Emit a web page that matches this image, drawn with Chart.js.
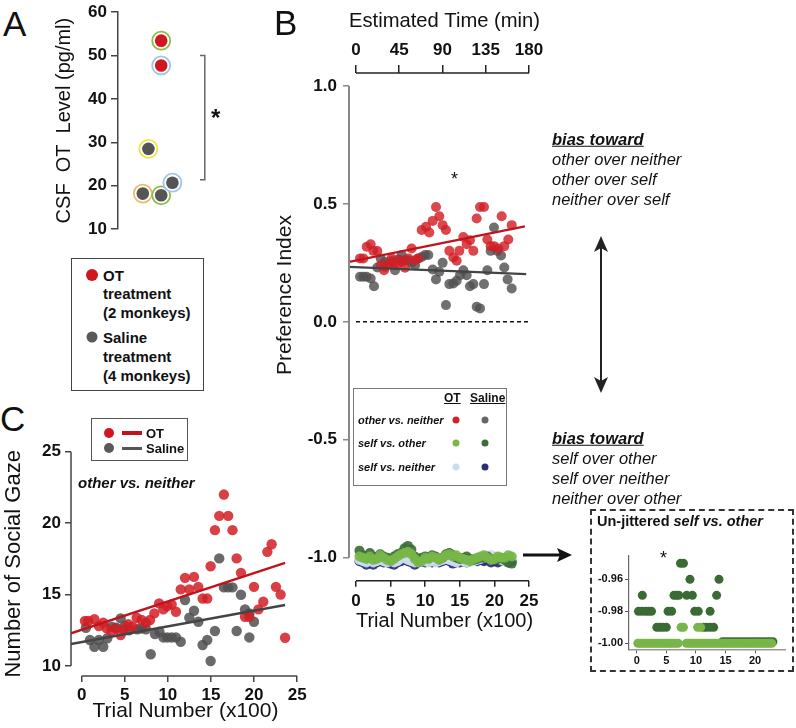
<!DOCTYPE html>
<html>
<head>
<meta charset="utf-8">
<script src="https://cdn.jsdelivr.net/npm/chart.js@4.4.1/dist/chart.umd.min.js"></script>
<style>
  html, body { margin: 0; padding: 0; background: #fff; }
  #fig { position: relative; width: 796px; height: 728px; overflow: hidden;
         font-family: "Liberation Sans", Arial, sans-serif; color: #111; }
  .box { position: absolute; }
  .t { position: absolute; white-space: nowrap; line-height: 1; transform: translateY(-50%); }
  .letter { font-size: 35px; }
  .bold { font-weight: bold; }
  .bi { font-weight: bold; font-style: italic; }
  .it { font-style: italic; }
  .u { text-decoration: underline; }
  .dot { position: absolute; border-radius: 50%; transform: translate(-50%, -50%); }
</style>
</head>
<body>
<div id="fig">
  <div class="box" style="left:40px;top:0;width:190px;height:240px"><canvas id="chartA"></canvas></div>
  <div class="box" style="left:270px;top:0;width:300px;height:640px"><canvas id="chartB"></canvas></div>
  <div class="box" style="left:0;top:440px;width:320px;height:288px"><canvas id="chartC"></canvas></div>
  <div class="box" style="left:590px;top:509px;width:204px;height:163px;border:2px dashed #333;box-sizing:border-box"></div>
  <div class="box" style="left:590px;top:540px;width:204px;height:132px"><canvas id="chartD"></canvas></div>

  <!-- panel letters -->
  <div class="t letter" style="left:3px;top:23px">A</div>
  <div class="t letter" style="left:274px;top:22px">B</div>
  <div class="t letter" style="left:0;top:418px">C</div>

  <!-- panel A extras -->
  <div class="t bold" style="left:211px;top:118px;font-size:24px">*</div>
  <div class="box" style="left:71px;top:258px;width:133px;height:133px;border:1.5px solid #444;box-sizing:border-box"></div>
  <div class="dot" style="left:92px;top:275px;width:12px;height:12px;background:#d0161e"></div>
  <div class="dot" style="left:92px;top:337px;width:11px;height:11px;background:#5a5a5a"></div>
  <div class="t bold" style="left:103px;top:275px;font-size:15px">OT</div>
  <div class="t bold" style="left:103px;top:293px;font-size:15px">treatment</div>
  <div class="t bold" style="left:103px;top:312px;font-size:15px">(2 monkeys)</div>
  <div class="t bold" style="left:103px;top:337px;font-size:15px">Saline</div>
  <div class="t bold" style="left:103px;top:356px;font-size:15px">treatment</div>
  <div class="t bold" style="left:103px;top:375px;font-size:15px">(4 monkeys)</div>

  <!-- panel B extras -->
  <div class="box" style="left:284px;top:295px;font-size:21px;white-space:nowrap;transform:translate(-50%,-50%) rotate(-90deg)">Preference Index</div>
  <div class="t" style="left:451px;top:179px;font-size:18px">*</div>
  <div class="box" style="left:353px;top:388px;width:154px;height:98px;border:1px solid #777;box-sizing:border-box"></div>
  <div class="t bold u" style="left:444px;top:398px;font-size:12px">OT</div>
  <div class="t bold u" style="left:470px;top:398px;font-size:12px">Saline</div>
  <div class="t bi" style="left:358px;top:420px;font-size:11px">other vs. neither</div>
  <div class="t bi" style="left:358px;top:443px;font-size:11px">self vs. other</div>
  <div class="t bi" style="left:358px;top:467px;font-size:11px">self vs. neither</div>
  <div class="dot" style="left:456px;top:420px;width:7px;height:7px;background:#d42128"></div>
  <div class="dot" style="left:485px;top:420px;width:7px;height:7px;background:#666"></div>
  <div class="dot" style="left:456px;top:443px;width:7px;height:7px;background:#78b648"></div>
  <div class="dot" style="left:485px;top:443px;width:7px;height:7px;background:#3c6e37"></div>
  <div class="dot" style="left:456px;top:467px;width:7px;height:7px;background:#c9ddef"></div>
  <div class="dot" style="left:485px;top:467px;width:7px;height:7px;background:#2d2c7c"></div>

  <div class="t bi u" style="left:552px;top:139px;font-size:16.5px">bias toward</div>
  <div class="t it" style="left:552px;top:159px;font-size:16.5px">other over neither</div>
  <div class="t it" style="left:552px;top:179px;font-size:16.5px">other over self</div>
  <div class="t it" style="left:552px;top:199px;font-size:16.5px">neither over self</div>
  <div class="t bi u" style="left:552px;top:438px;font-size:16.5px">bias toward</div>
  <div class="t it" style="left:552px;top:458px;font-size:16.5px">self over other</div>
  <div class="t it" style="left:552px;top:478px;font-size:16.5px">self over neither</div>
  <div class="t it" style="left:552px;top:498px;font-size:16.5px">neither over other</div>

  <!-- inset title -->
  <div class="t bold" style="left:597px;top:521px;font-size:14.5px">Un-jittered <i>self vs. other</i></div>
  <div class="t" style="left:660px;top:558px;font-size:18px">*</div>

  <!-- panel C legend -->
  <div class="box" style="left:91px;top:418px;width:97px;height:43px;border:1px solid #555;box-sizing:border-box"></div>
  <div class="dot" style="left:109px;top:433px;width:10px;height:10px;background:#d0161e"></div>
  <div class="box" style="left:122px;top:431px;width:20px;height:3.5px;background:#c0141c"></div>
  <div class="t bold" style="left:146px;top:433px;font-size:13px">OT</div>
  <div class="dot" style="left:109px;top:448px;width:10px;height:10px;background:#5a5a5a"></div>
  <div class="box" style="left:122px;top:446.5px;width:20px;height:3.5px;background:#555"></div>
  <div class="t bold" style="left:146px;top:448px;font-size:13px">Saline</div>
  <div class="t bi" style="left:78px;top:482px;font-size:15px">other vs. neither</div>

  <svg class="box" style="left:0;top:0;pointer-events:none" width="796" height="728">
    <line x1="601" y1="246" x2="601" y2="384" stroke="#222" stroke-width="2"/>
    <polygon points="601,236 594,252 601,248 608,252" fill="#222"/>
    <polygon points="601,393 594,377 601,381 608,377" fill="#222"/>
    <line x1="523" y1="555" x2="562" y2="555" stroke="#111" stroke-width="3"/>
    <polygon points="572,555 557,548 560,555 557,562" fill="#111"/>
  </svg>
</div>

<script>
'use strict';

// ─── Data ─────────────────────────────────────────────────────────
// A: CSF oxytocin level per monkey (x = jitter position)
const csfOT = [53.4, 47.7];
const csfOTx = [5.4, 5.4];
const csfSal = [28.5, 18.2, 17.8, 20.7];
const csfSalx = [3.8, 3.1, 5.4, 6.8];
const csfTicks = [10, 20, 30, 40, 50, 60];
const bracketX = [10.25, 10.85, 10.85, 10.25];
const bracketY = [50, 50, 21.4, 21.4];

// B: preference index, other vs. neither
const prefOTx = [0.58, 1.06, 1.54, 2.12, 2.5, 3.08, 3.57, 4.05, 4.19, 4.67, 5.15, 5.39, 5.88, 6.36, 6.6, 7.08,
  7.56, 8.04, 8.53, 9.01, 9.49, 10.12, 10.6, 11.08, 11.56, 12.04, 12.52, 13.0, 13.49, 14.07, 14.55, 14.93,
  15.51, 15.99, 16.47, 16.96, 17.44, 17.92, 18.5, 18.98, 19.46, 19.94, 20.57, 21.05, 21.43, 22.01, 22.5];
const prefOT = [0.269, 0.269, 0.318, 0.329, 0.301, 0.30, 0.24, 0.219, 0.233, 0.244, 0.269, 0.25, 0.244, 0.261, 0.254, 0.229,
  0.269, 0.311, 0.261, 0.269, 0.389, 0.403, 0.379, 0.428, 0.487, 0.448, 0.41, 0.389, 0.301, 0.273, 0.259, 0.301,
  0.36, 0.329, 0.346, 0.301, 0.438, 0.487, 0.487, 0.349, 0.321, 0.321, 0.311, 0.448, 0.321, 0.349, 0.41];
const prefSalx = [0.58, 1.06, 1.54, 2.12, 2.6, 3.08, 3.57, 4.19, 4.67, 5.15, 5.64, 6.12, 6.6, 7.08, 7.56, 8.04,
  8.53, 9.01, 9.49, 9.97, 10.45, 11.08, 11.56, 12.04, 12.52, 13.0, 13.49, 14.07, 14.55, 15.03, 15.51, 15.99,
  16.47, 16.96, 17.44, 17.92, 18.5, 18.98, 19.46, 19.94, 20.43, 20.96, 21.43, 21.91, 22.5];
const prefSal = [0.191, 0.191, 0.191, 0.184, 0.151, 0.23, 0.269, 0.254, 0.244, 0.258, 0.219, 0.264, 0.283, 0.261, 0.261, 0.25,
  0.24, 0.269, 0.275, 0.283, 0.283, 0.222, 0.18, 0.212, 0.25, 0.071, 0.16, 0.163, 0.174, 0.198, 0.219, 0.198,
  0.151, 0.16, 0.064, 0.057, 0.16, 0.219, 0.301, 0.4, 0.301, 0.281, 0.23, 0.18, 0.141];
const fitOTx = [-1.01, 24.4];
const fitOTy = [0.254, 0.405];
const fitSalx = [-1.01, 24.6];
const fitSaly = [0.233, 0.202];
const zeroX = [0, 25];
const zeroY = [0, 0];

// B: self vs. other / self vs. neither (clustered near -1)
const clusterX = [0.5, 1, 1.5, 2, 2.5, 3, 3.5, 4, 4.5, 5, 5.5, 6, 6.5, 7, 7.5, 8, 8.5, 9, 9.5, 10, 10.5, 11, 11.5,
  12, 12.5, 13, 13.5, 14, 14.5, 15, 15.5, 16, 16.5, 17, 17.5, 18, 18.5, 19, 19.5, 20, 20.5, 21, 21.5, 22, 22.5];
const selfOtherOT = [-0.995, -1.0, -1.005, -0.995, -1.01, -1.005, -0.99, -1.0, -1.01, -1.015, -1.005, -0.995, -0.985, -0.98,
  -0.975, -0.985, -1.005, -1.02, -1.015, -1.0, -1.005, -0.995, -1.0, -1.01, -1.0, -0.99, -0.985, -0.995, -0.99, -1.0,
  -1.005, -1.01, -1.015, -1.005, -1.0, -0.995, -0.99, -1.0, -1.01, -1.005, -0.995, -1.0, -1.0, -0.99, -0.995];
const selfOtherSal = [-0.97, -0.99, -1.0, -0.98, -0.995, -1.0, -0.985, -0.995, -1.0, -1.005, -0.995, -0.985, -0.98, -0.96,
  -0.95, -0.965, -0.995, -1.01, -1.0, -0.995, -1.0, -0.99, -0.995, -1.005, -1.0, -0.985, -0.98, -0.99, -1.0, -1.005,
  -1.0, -0.995, -1.005, -1.01, -1.005, -1.0, -1.0, -0.995, -1.005, -1.01, -1.005, -1.0, -1.01, -1.02, -1.025];
const selfNeitherOT = [-1.01, -1.015, -1.02, -1.01, -1.02, -1.015, -1.005, -1.015, -1.02, -1.01, -1.02, -1.015, -1.005, -1.0,
  -1.01, -1.015, -1.02, -1.01, -1.005, -1.015, -1.02, -1.01, -1.02, -1.015, -1.01, -1.005, -1.01, -1.015, -1.02, -1.01,
  -1.015, -1.02, -1.01, -1.015, -1.01, -1.005, -1.0, -0.995, -0.99, -0.995, -1.0, -1.01, -1.015, -1.01, -1.0];
const selfNeitherSal = [-1.015, -1.02, -1.03, -1.02, -1.03, -1.02, -1.015, -1.02, -1.02, -1.025, -1.03, -1.02, -1.015, -1.01,
  -1.015, -1.02, -1.03, -1.02, -1.015, -1.02, -1.015, -1.02, -1.015, -1.02, -1.015, -1.01, -1.015, -1.025, -1.02, -1.02,
  -1.015, -1.02, -1.015, -1.01, -1.015, -1.01, -1.015, -1.01, -1.02, -1.015, -1.02, -1.01, -1.015, -1.02, -1.015];
const prefTicks = [-1.0, -0.5, 0.0, 0.5, 1.0];
const trialTicks = [0, 5, 10, 15, 20, 25];
const timeTicks = [0, 45, 90, 135, 180];

// C: number of social gaze, other vs. neither
const gazeOTx = [0.38, 0.77, 1.47, 2.0, 2.5, 2.9, 3.47, 3.98, 4.52, 4.9, 5.4, 5.9, 6.38, 6.96, 7.46, 7.93, 8.43, 8.98,
  9.48, 9.94, 10.44, 10.94, 11.49, 11.99, 12.49, 13.03, 13.53, 14.03, 14.57, 14.96, 15.46, 15.96, 16.5, 17.0, 17.5,
  17.98, 18.48, 18.95, 19.45, 19.99, 20.5, 21.07, 21.54, 22.04, 22.54, 23.08, 23.6];
const gazeOT = [13.15, 13.15, 13.27, 12.8, 13.03, 12.63, 12.45, 12.63, 12.17, 12.57, 12.93, 12.75, 13.38, 13.22, 13.03,
  13.22, 13.68, 14.38, 13.96, 14.19, 14.31, 13.8, 15.36, 16.17, 15.36, 16.24, 15.54, 14.72, 14.72, 16.98, 19.51, 20.51,
  22.0, 20.51, 19.51, 17.53, 16.52, 13.45, 13.45, 15.54, 13.96, 14.5, 17.99, 18.52, 15.54, 15.0, 11.98];
const gazeSalx = [0.49, 0.96, 1.47, 2.0, 2.5, 2.97, 3.47, 3.98, 4.52, 5.0, 5.5, 6.46, 6.96, 7.46, 8.01, 8.5, 9.02, 9.48,
  9.94, 10.44, 10.94, 11.49, 11.99, 12.49, 13.03, 13.53, 14.03, 14.57, 14.96, 15.46, 15.96, 16.5, 17.0, 17.5, 17.98,
  18.48, 18.95, 19.45, 19.45, 19.99];
const gazeSal = [12.68, 11.82, 11.35, 11.82, 11.35, 11.94, 12.75, 12.68, 13.33, 12.8, 12.5, 12.57, 12.63, 12.57, 10.82,
  12.24, 12.4, 12.0, 12.0, 12.0, 12.0, 11.7, 14.62, 13.38, 13.87, 13.1, 11.47, 11.82, 10.35, 12.45, 17.53, 15.5, 15.5,
  15.5, 12.45, 14.99, 13.96, 13.68, 12.0, 13.1];
const gazeFitOTx = [-1.24, 23.6];
const gazeFitOTy = [12.29, 17.22];
const gazeFitSalx = [-1.24, 23.6];
const gazeFitSaly = [11.54, 14.27];
const gazeTicks = [10, 15, 20, 25];

// Inset: un-jittered self vs. other
const rawSalx = [7.4, 7.9, 9.0, 13.9, 0.95, 6.3, 6.7, 7.1, 8.45, 9.4, 13.5, 0.3, 0.9, 1.5, 2.0, 2.5, 5.3, 5.9, 9.8,
  10.4, 12.4, 3.4, 3.9, 4.4, 5.0, 11.3, 11.8, 12.4, 13.0, 14.5, 15, 15.5, 16, 16.5, 17, 17.5, 18, 18.5, 19, 19.5, 20,
  20.5, 21, 21.5, 22, 22.5, 23];
const rawSal = [-0.95, -0.95, -0.96, -0.96, -0.97, -0.97, -0.97, -0.97, -0.97, -0.97, -0.97, -0.98, -0.98, -0.98, -0.98,
  -0.98, -0.98, -0.98, -0.98, -0.98, -0.98, -0.99, -0.99, -0.99, -0.99, -0.99, -0.99, -0.99, -0.99, -0.999, -0.999,
  -0.999, -0.999, -0.999, -0.999, -0.999, -0.999, -0.999, -0.999, -0.999, -0.999, -0.999, -0.999, -0.999, -0.999,
  -0.999, -0.999];
const rawOTx = [7.5, 7.9, 10.3, 10.8, 0.2, 0.6, 1.0, 1.4, 1.8, 2.2, 2.6, 3.0, 3.4, 3.8, 4.2, 4.6, 5.0, 5.4, 5.8, 6.2,
  6.6, 7.0, 8.4, 8.8, 9.2, 9.6, 10.0, 10.4, 10.8, 11.2, 11.6, 12.0, 12.4, 12.8, 13.2, 13.6, 14.0, 14.4, 14.8, 15.2,
  15.6, 16.0, 16.4, 16.8, 17.2, 17.6, 18.0, 18.4, 18.8, 19.2, 19.6, 20.0, 20.4, 20.8, 21.2, 21.6, 22.0, 22.4, 22.8];
const rawOT = [-0.99, -0.99, -0.99, -0.99, -1.0, -1.0, -1.0, -1.0, -1.0, -1.0, -1.0, -1.0, -1.0, -1.0, -1.0, -1.0, -1.0,
  -1.0, -1.0, -1.0, -1.0, -1.0, -1.0, -1.0, -1.0, -1.0, -1.0, -1.0, -1.0, -1.0, -1.0, -1.0, -1.0, -1.0, -1.0, -1.0,
  -1.0, -1.0, -1.0, -1.0, -1.0, -1.0, -1.0, -1.0, -1.0, -1.0, -1.0, -1.0, -1.0, -1.0, -1.0, -1.0, -1.0, -1.0, -1.0,
  -1.0, -1.0, -1.0, -1.0];
const rawYTicks = [-1.0, -0.98, -0.96];
const rawXTicks = [0, 5, 10, 15, 20];

// ─── Helpers ──────────────────────────────────────────────────────
const FONT = '"Liberation Sans", Arial, sans-serif';
const tickFont = { family: FONT, size: 17, weight: 'bold' };
const pts = (xs, ys) => xs.map((x, i) => ({ x, y: ys[i] }));
const fixW = w => s => { s.width = w; s.paddingTop = 0; s.paddingBottom = 0; };
const fixH = h => s => { s.height = h; s.paddingLeft = 0; s.paddingRight = 0; };
const setTicks = vals => s => { s.ticks = vals.map(v => ({ value: v })); };
const noUi = { legend: { display: false }, tooltip: { enabled: false } };

// draws R-style detached axis lines that run only from the first to the last tick
const rAxes = {
  id: 'rAxes',
  afterDraw(chart, args, opts) {
    const ctx = chart.ctx;
    (opts.lines || []).forEach(l => {
      const s = chart.scales[l.axis];
      ctx.save();
      ctx.strokeStyle = l.color;
      ctx.lineWidth = l.width;
      ctx.beginPath();
      if (s.isHorizontal()) {
        const y = s.position === 'top' ? s.bottom : s.top;
        ctx.moveTo(s.getPixelForValue(l.from), y);
        ctx.lineTo(s.getPixelForValue(l.to), y);
      } else {
        ctx.moveTo(s.right, s.getPixelForValue(l.from));
        ctx.lineTo(s.right, s.getPixelForValue(l.to));
      }
      ctx.stroke();
      ctx.restore();
    });
  }
};

function scatterSet(data, color, r, extra) {
  return Object.assign({ data, backgroundColor: color, borderWidth: 0, pointRadius: r, pointHoverRadius: r }, extra || {});
}
function lineSet(data, color, width, extra) {
  return Object.assign({ data, showLine: true, borderColor: color, borderWidth: width, pointRadius: 0 }, extra || {});
}

// ─── A: CSF OT level ──────────────────────────────────────────────
const otRing = ['#8fbb4c', '#9fc5e8'];
const salRing = ['#ece448', '#eebb6a', '#8fbb4c', '#9fc5e8'];

new Chart(document.getElementById('chartA'), {
  type: 'scatter',
  data: {
    datasets: [
      lineSet(pts(bracketX, bracketY), '#666', 1.5),
      scatterSet(pts(csfOTx, csfOT), '#d0161e', 6.3),
      scatterSet(pts(csfSalx, csfSal), '#555', 6.3),
      scatterSet(pts(csfOTx, csfOT), '#fff', 9, { borderColor: otRing, borderWidth: 1.8 }),
      scatterSet(pts(csfSalx, csfSal), '#fff', 9, { borderColor: salRing, borderWidth: 1.8 }),
    ],
  },
  options: {
    responsive: true,
    maintainAspectRatio: false,
    animation: false,
    layout: { padding: { top: 12, right: 16, bottom: 9, left: 0 } },
    plugins: noUi,
    scales: {
      x: { display: false, min: 0, max: 12 },
      y: {
        min: 10, max: 60,
        afterBuildTicks: setTicks(csfTicks),
        afterFit: fixW(78),
        border: { color: '#444', width: 1.5 },
        grid: { drawOnChartArea: false, color: '#444', lineWidth: 1.5, tickLength: 7 },
        ticks: { font: tickFont, color: '#111', padding: 4 },
        title: { display: true, text: 'CSF  OT  Level (pg/ml)', color: '#111', font: { family: FONT, size: 20 }, padding: { top: 12 } },
      },
    },
  },
});

// ─── B: preference index ──────────────────────────────────────────
const xMinB = -1.0116, xMaxB = 26.59;
new Chart(document.getElementById('chartB'), {
  type: 'scatter',
  plugins: [rAxes],
  data: {
    datasets: [
      lineSet(pts(fitOTx, fitOTy), '#c0141c', 2.2),
      lineSet(pts(fitSalx, fitSaly), '#444', 2.2),
      lineSet(pts(zeroX, zeroY), '#111', 1.5, { borderDash: [4, 3] }),
      scatterSet(pts(prefOTx, prefOT), 'rgba(210,30,38,0.82)', 5),
      scatterSet(pts(prefSalx, prefSal), 'rgba(80,80,80,0.82)', 5),
      scatterSet(pts(clusterX, selfOtherOT), 'rgba(120,182,72,0.92)', 5),
      scatterSet(pts(clusterX, selfOtherSal), 'rgba(60,110,55,0.92)', 5),
      scatterSet(pts(clusterX, selfNeitherOT), 'rgba(201,221,239,0.95)', 5),
      scatterSet(pts(clusterX, selfNeitherSal), 'rgba(45,44,124,0.92)', 5),
    ],
  },
  options: {
    responsive: true,
    maintainAspectRatio: false,
    animation: false,
    layout: { padding: { top: 0, right: 30, bottom: 0, left: 0 } },
    plugins: Object.assign({
      rAxes: {
        lines: [
          { axis: 'y', from: -1, to: 1, color: '#888', width: 2 },
          { axis: 'x', from: 0, to: 25, color: '#222', width: 1.5 },
          { axis: 'x2', from: 0, to: 180, color: '#222', width: 1.5 },
        ],
      },
    }, noUi),
    scales: {
      x: {
        min: xMinB, max: xMaxB,
        afterBuildTicks: setTicks(trialTicks),
        afterFit: fixH(59.3),
        border: { display: false },
        grid: { drawOnChartArea: false, color: '#222', lineWidth: 1.5, tickLength: 6 },
        ticks: { font: tickFont, color: '#111', padding: 4, maxRotation: 0 },
        title: { display: true, text: 'Trial Number (x100)', color: '#111', font: { family: FONT, size: 20 }, padding: { bottom: 7 } },
      },
      x2: {
        position: 'top',
        min: xMinB * 7.2, max: xMaxB * 7.2,
        afterBuildTicks: setTicks(timeTicks),
        afterFit: fixH(73),
        border: { display: false },
        grid: { drawOnChartArea: false, color: '#222', lineWidth: 1.5, tickLength: 8 },
        ticks: { font: tickFont, color: '#111', padding: 4, maxRotation: 0 },
        title: { display: true, text: 'Estimated Time (min)', color: '#111', font: { family: FONT, size: 21 }, padding: { top: 9 } },
      },
      y: {
        min: -1.0975, max: 1.055,
        afterBuildTicks: setTicks(prefTicks),
        afterFit: fixW(79),
        border: { display: false },
        grid: { drawOnChartArea: false, color: '#888', lineWidth: 1.5, tickLength: 6 },
        ticks: { font: tickFont, color: '#111', padding: 6, callback: v => v.toFixed(1) },
      },
    },
  },
});

// ─── C: number of social gaze ─────────────────────────────────────
new Chart(document.getElementById('chartC'), {
  type: 'scatter',
  plugins: [rAxes],
  data: {
    datasets: [
      lineSet(pts(gazeFitOTx, gazeFitOTy), '#c0141c', 2.4),
      lineSet(pts(gazeFitSalx, gazeFitSaly), '#444', 2.4),
      scatterSet(pts(gazeOTx, gazeOT), 'rgba(210,30,38,0.85)', 5.2),
      scatterSet(pts(gazeSalx, gazeSal), 'rgba(80,80,80,0.85)', 5.2),
    ],
  },
  options: {
    responsive: true,
    maintainAspectRatio: false,
    animation: false,
    layout: { padding: { top: 11.7, right: 20, bottom: 0, left: 0 } },
    plugins: Object.assign({
      rAxes: {
        lines: [
          { axis: 'y', from: 10, to: 25, color: '#444', width: 1.5 },
          { axis: 'x', from: 0, to: 25, color: '#444', width: 1.5 },
        ],
      },
    }, noUi),
    scales: {
      x: {
        min: -1.24, max: 25.33,
        afterBuildTicks: setTicks(trialTicks),
        afterFit: fixH(52),
        border: { display: false },
        grid: { drawOnChartArea: false, color: '#444', lineWidth: 1.5, tickLength: 6 },
        ticks: { font: tickFont, color: '#111', padding: 3, maxRotation: 0 },
        title: { display: true, text: 'Trial Number (x100)', color: '#111', font: { family: FONT, size: 21 }, padding: { bottom: 3.7 } },
      },
      y: {
        min: 9.3, max: 25,
        afterBuildTicks: setTicks(gazeTicks),
        afterFit: fixW(71),
        border: { display: false },
        grid: { drawOnChartArea: false, color: '#444', lineWidth: 1.5, tickLength: 6 },
        ticks: { font: tickFont, color: '#111', padding: 4 },
        title: { display: true, text: 'Number of Social Gaze', color: '#111', font: { family: FONT, size: 22 }, padding: { top: 1 } },
      },
    },
  },
});

// ─── Inset: un-jittered self vs. other ───────────────────────────
const smallFont = { family: FONT, size: 11, weight: 'bold' };
new Chart(document.getElementById('chartD'), {
  type: 'scatter',
  data: {
    datasets: [
      scatterSet(pts(rawOTx, rawOT), '#78b648', 4.5),
      scatterSet(pts(rawSalx, rawSal), '#3a6b34', 4.5),
    ],
  },
  options: {
    responsive: true,
    maintainAspectRatio: false,
    animation: false,
    layout: { padding: { top: 16, right: 9, bottom: 0, left: 0 } },
    plugins: noUi,
    scales: {
      x: {
        min: -1.3, max: 25.05,
        afterBuildTicks: setTicks(rawXTicks),
        afterFit: fixH(22.7),
        border: { color: '#999', width: 1.5 },
        grid: { drawOnChartArea: false, color: '#555', tickLength: 4 },
        ticks: { font: smallFont, color: '#111', padding: 1, maxRotation: 0 },
      },
      y: {
        min: -1.00375, max: -0.9454,
        afterBuildTicks: setTicks(rawYTicks),
        afterFit: fixW(39),
        border: { color: '#666', width: 1.2 },
        grid: { drawOnChartArea: false, color: '#555', tickLength: 4 },
        ticks: { font: smallFont, color: '#111', padding: 2, callback: v => v.toFixed(2) },
      },
    },
  },
});
</script>
</body>
</html>
